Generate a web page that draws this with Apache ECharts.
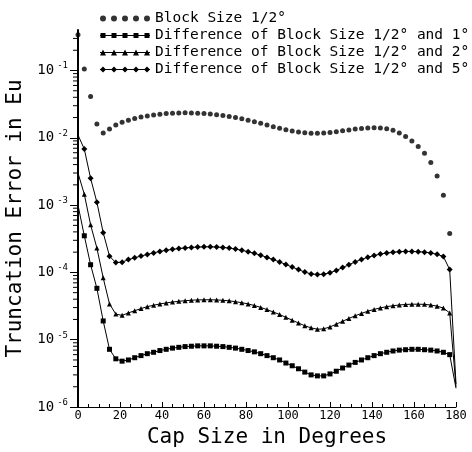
<!DOCTYPE html>
<html>
<head>
<meta charset="utf-8">
<title>Truncation Error</title>
<script src="https://cdn.jsdelivr.net/npm/echarts@6/dist/echarts.min.js"></script>
</head>
<body style="margin:0;background:#fff">
<div id="main" style="width:472px;height:452px;"></div>
<script>
// cap size (degrees), one sample every 3 degrees
var capDeg = [0, 3, 6, 9, 12, 15, 18, 21, 24, 27, 30, 33, 36, 39, 42, 45, 48, 51, 54, 57,
    60, 63, 66, 69, 72, 75, 78, 81, 84, 87, 90, 93, 96, 99, 102, 105, 108, 111, 114, 117,
    120, 123, 126, 129, 132, 135, 138, 141, 144, 147, 150, 153, 156, 159, 162, 165, 168, 171, 174, 177, 180];

// Block Size 1/2 deg (no value at 180)
var blockHalf = [0.34, 0.105, 0.041, 0.016, 0.0118, 0.0135, 0.0155, 0.017, 0.0182, 0.0193,
    0.0203, 0.0211, 0.0218, 0.0224, 0.0229, 0.0232, 0.0234, 0.0235, 0.0234, 0.0232,
    0.0229, 0.0225, 0.022, 0.0214, 0.0207, 0.02, 0.0192, 0.0183, 0.0174, 0.0164,
    0.0155, 0.0146, 0.0139, 0.0132, 0.0126, 0.0122, 0.0119, 0.0117, 0.0117, 0.0118,
    0.012, 0.0123, 0.0127, 0.0131, 0.0135, 0.0138, 0.014, 0.0141, 0.014, 0.0136,
    0.0129, 0.0118, 0.0105, 0.009, 0.0074, 0.0059, 0.0043, 0.0027, 0.0014, 0.00038];

// difference 1/2 and 1
var diff1 = [1.0e-3, 3.5e-4, 1.3e-4, 5.8e-5, 1.9e-5, 7.2e-6, 5.2e-6, 4.8e-6, 5.0e-6, 5.4e-6,
    5.8e-6, 6.2e-6, 6.5e-6, 6.9e-6, 7.2e-6, 7.5e-6, 7.7e-6, 7.9e-6, 8.0e-6, 8.1e-6,
    8.1e-6, 8.1e-6, 8.0e-6, 7.9e-6, 7.7e-6, 7.5e-6, 7.2e-6, 6.9e-6, 6.6e-6, 6.2e-6,
    5.8e-6, 5.4e-6, 5.0e-6, 4.5e-6, 4.1e-6, 3.7e-6, 3.3e-6, 3.0e-6, 2.9e-6, 2.9e-6,
    3.1e-6, 3.4e-6, 3.8e-6, 4.2e-6, 4.6e-6, 5.0e-6, 5.4e-6, 5.8e-6, 6.2e-6, 6.5e-6,
    6.8e-6, 7.0e-6, 7.1e-6, 7.2e-6, 7.2e-6, 7.1e-6, 7.0e-6, 6.8e-6, 6.5e-6, 6.0e-6, 1.9e-6];

// difference 1/2 and 2
var diff2 = [3.0e-3, 1.45e-3, 5.1e-4, 2.3e-4, 8.3e-5, 3.4e-5, 2.4e-5, 2.3e-5, 2.5e-5, 2.7e-5,
    2.9e-5, 3.1e-5, 3.25e-5, 3.4e-5, 3.52e-5, 3.63e-5, 3.72e-5, 3.8e-5, 3.86e-5, 3.9e-5,
    3.92e-5, 3.92e-5, 3.9e-5, 3.85e-5, 3.78e-5, 3.67e-5, 3.55e-5, 3.4e-5, 3.22e-5, 3.02e-5,
    2.8e-5, 2.58e-5, 2.37e-5, 2.15e-5, 1.95e-5, 1.77e-5, 1.61e-5, 1.5e-5, 1.43e-5, 1.45e-5,
    1.55e-5, 1.7e-5, 1.88e-5, 2.07e-5, 2.27e-5, 2.46e-5, 2.65e-5, 2.82e-5, 2.97e-5, 3.1e-5,
    3.2e-5, 3.28e-5, 3.34e-5, 3.37e-5, 3.37e-5, 3.35e-5, 3.28e-5, 3.15e-5, 2.95e-5, 2.5e-5, 2.0e-6];

// difference 1/2 and 5
var diff5 = [1.1e-2, 6.8e-3, 2.5e-3, 1.1e-3, 3.9e-4, 1.74e-4, 1.4e-4, 1.42e-4, 1.55e-4, 1.65e-4,
    1.75e-4, 1.85e-4, 1.95e-4, 2.05e-4, 2.13e-4, 2.2e-4, 2.26e-4, 2.31e-4, 2.35e-4, 2.38e-4,
    2.4e-4, 2.4e-4, 2.38e-4, 2.35e-4, 2.3e-4, 2.22e-4, 2.13e-4, 2.03e-4, 1.92e-4, 1.8e-4,
    1.67e-4, 1.55e-4, 1.43e-4, 1.31e-4, 1.2e-4, 1.1e-4, 1.01e-4, 9.5e-5, 9.3e-5, 9.4e-5,
    9.9e-5, 1.07e-4, 1.18e-4, 1.3e-4, 1.43e-4, 1.56e-4, 1.68e-4, 1.78e-4, 1.87e-4, 1.94e-4,
    1.99e-4, 2.03e-4, 2.05e-4, 2.05e-4, 2.03e-4, 2.0e-4, 1.94e-4, 1.86e-4, 1.72e-4, 1.1e-4, 2.2e-6];

var seriesNames = [
    'Block Size 1/2°',
    'Difference of Block Size 1/2° and 1°',
    'Difference of Block Size 1/2° and 2°',
    'Difference of Block Size 1/2° and 5°'
];

var yMin = 1e-6, yMax = 0.4;
var decadeTicks = [1e-6, 1e-5, 1e-4, 1e-3, 1e-2, 1e-1];
// log minor ticks 2..9 in every decade
var minorTicks = [];
decadeTicks.forEach(function (d) {
    for (var m = 2; m <= 9; m++) {
        if (m * d < yMax) minorTicks.push(+(m * d).toPrecision(3));
    }
});

var myChart = echarts.init(document.getElementById('main'));

// legend icons: 5 markers on a 50x6 strip
var iconX = [3, 14, 25, 36, 47];
function iconPath(kind) {
    var p = '';
    if (kind !== 'dot') p += 'M0 2.5 L50 2.5 L50 3.5 L0 3.5 Z ';
    iconX.forEach(function (cx) {
        if (kind === 'dot') {
            p += 'M' + (cx - 3) + ' 3 A3 3 0 1 1 ' + (cx + 3) + ' 3 A3 3 0 1 1 ' + (cx - 3) + ' 3 Z ';
        } else if (kind === 'rect') {
            p += 'M' + (cx - 2.5) + ' 0.5 L' + (cx + 2.5) + ' 0.5 L' + (cx + 2.5) + ' 5.5 L' + (cx - 2.5) + ' 5.5 Z ';
        } else if (kind === 'tri') {
            p += 'M' + cx + ' 0 L' + (cx + 3) + ' 6 L' + (cx - 3) + ' 6 Z ';
        } else {
            p += 'M' + cx + ' 0 L' + (cx + 3) + ' 3 L' + cx + ' 6 L' + (cx - 3) + ' 3 Z ';
        }
    });
    return 'path://' + p;
}

function lineData(vals) {
    return vals.map(function (v, i) {
        var item = { value: [capDeg[i], v] };
        if (i === 0 || capDeg[i] === 180) item.symbol = 'none';
        return item;
    });
}

var mono = 'DejaVu Sans Mono';

option = {
    backgroundColor: '#fff',
    animation: false,
    color: ['#000', '#000', '#000', '#000'],
    legend: {
        orient: 'vertical',
        left: 100,
        top: 11,
        padding: 0,
        itemWidth: 50,
        itemHeight: 6,
        itemGap: 2,
        textStyle: { color: '#000', fontSize: 14.5, fontFamily: mono },
        data: [
            { name: seriesNames[0], icon: iconPath('dot') },
            { name: seriesNames[1], icon: iconPath('rect') },
            { name: seriesNames[2], icon: iconPath('tri') },
            { name: seriesNames[3], icon: iconPath('dia') }
        ]
    },
    grid: { left: 78, right: 16, top: 30, bottom: 45, outerBoundsMode: 'none' },
    xAxis: {
        type: 'value',
        min: 0, max: 180, interval: 20,
        name: 'Cap Size in Degrees',
        nameLocation: 'middle',
        nameGap: 20,
        nameTextStyle: { color: '#000', fontSize: 21, fontFamily: mono },
        axisLine: { lineStyle: { color: '#000', width: 1 } },
        axisTick: { inside: true, length: 5, lineStyle: { color: '#000' } },
        minorTick: { show: true, splitNumber: 4, length: 3, lineStyle: { color: '#000' } },
        splitLine: { show: false },
        axisLabel: { color: '#000', fontSize: 12, fontFamily: mono, margin: 3 }
    },
    yAxis: {
        type: 'log',
        logBase: 10,
        min: yMin, max: yMax,
        name: 'Truncation Error in Eu',
        nameLocation: 'middle',
        nameGap: 46,
        nameTextStyle: { color: '#000', fontSize: 21, fontFamily: mono },
        axisLine: { lineStyle: { color: '#000', width: 2 } },
        axisTick: { length: 8, lineStyle: { color: '#000' } },
        splitLine: { show: false },
        axisLabel: {
            showMaxLabel: false,
            margin: 10,
            formatter: function (v) {
                return '{b|10}{s|' + Math.round(Math.log10(v)) + '}';
            },
            rich: {
                b: { color: '#000', fontSize: 14, lineHeight: 18, fontFamily: mono },
                s: { color: '#000', fontSize: 9, lineHeight: 9, verticalAlign: 'top', fontFamily: mono, padding: [0, 0, 0, 3] }
            }
        }
    },
    series: [{
        name: seriesNames[0],
        type: 'scatter',
        symbol: 'circle',
        symbolSize: 5,
        data: blockHalf.map(function (v, i) { return [capDeg[i], v]; })
    }, {
        name: seriesNames[1],
        type: 'line',
        symbol: 'rect',
        symbolSize: 5,
        showAllSymbol: true,
        lineStyle: { color: '#000', width: 1 },
        data: lineData(diff1)
    }, {
        name: seriesNames[2],
        type: 'line',
        symbol: 'triangle',
        symbolSize: 5,
        showAllSymbol: true,
        lineStyle: { color: '#000', width: 1 },
        data: lineData(diff2)
    }, {
        name: seriesNames[3],
        type: 'line',
        symbol: 'diamond',
        symbolSize: 6,
        showAllSymbol: true,
        lineStyle: { color: '#000', width: 1 },
        data: lineData(diff5)
    }, {
        // minor log ticks on the y axis
        name: 'yMinorTicks',
        type: 'custom',
        silent: true,
        clip: false,
        z: 5,
        data: minorTicks.map(function (v) { return [0, v]; }),
        renderItem: function (params, api) {
            var p = api.coord([0, api.value(1)]);
            return {
                type: 'line',
                shape: { x1: p[0] - 5, y1: p[1], x2: p[0], y2: p[1] },
                style: { stroke: '#000', lineWidth: 1 }
            };
        }
    }]
};

myChart.setOption(option);
</script>
</body>
</html>
